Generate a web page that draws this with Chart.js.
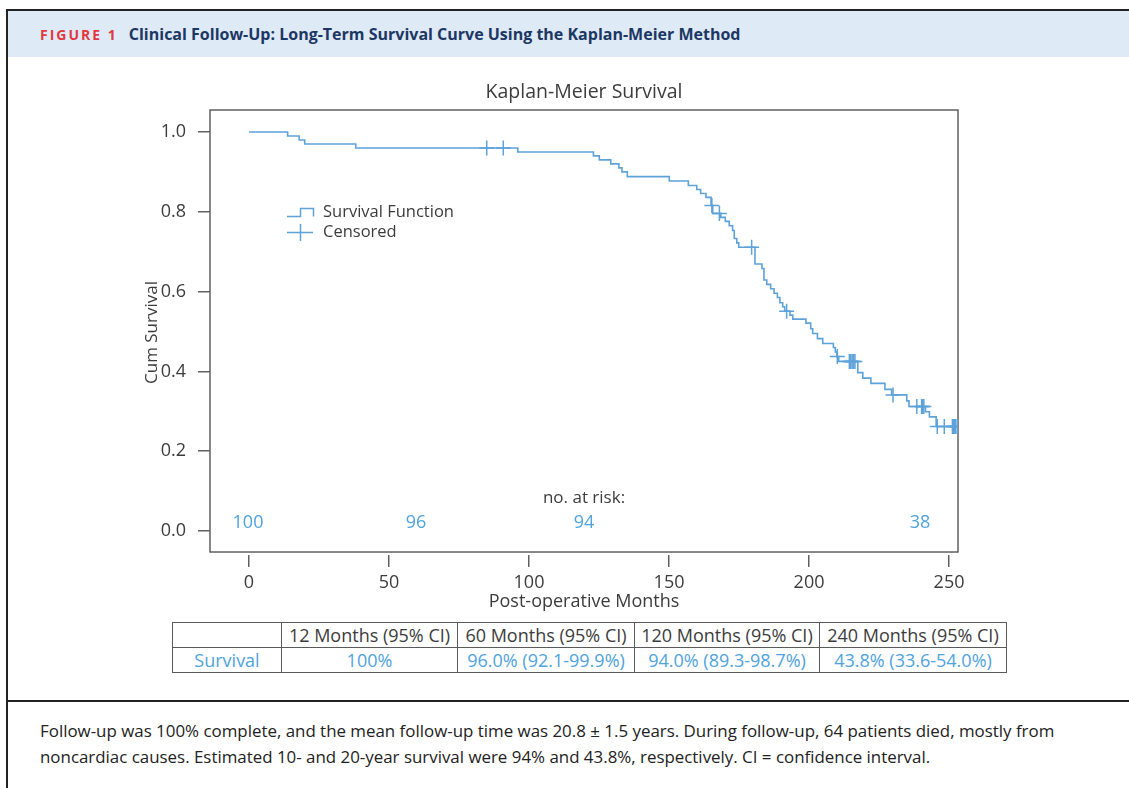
<!DOCTYPE html>
<html lang="en">
<head>
    <meta charset="UTF-8">
    <title>Figure 1 - Kaplan-Meier Survival</title>
    <script src="https://cdn.jsdelivr.net/npm/chart.js"></script>
    <style>
        :root {
            --curve-blue: #5ea2da;
            --value-blue: #4fa3de;
            --text-dark: #3c3c3c;
            --frame-gray: #606060;
            --header-bg: #deeaf6;
            --header-navy: #1c3764;
            --figure-red: #e2383f;
        }

        * {
            box-sizing: border-box;
            margin: 0;
            padding: 0;
        }

        body {
            width: 1129px;
            height: 788px;
            position: relative;
            overflow: hidden;
            background: #FFFFFF;
            font-family: "Open Sans", "Noto Sans", sans-serif;
            color: var(--text-dark);
        }

        .frame-top {
            position: absolute;
            left: 6px;
            top: 9px;
            width: 1123px;
            height: 2px;
            background: #222;
        }

        .frame-left {
            position: absolute;
            left: 6px;
            top: 9px;
            width: 2px;
            height: 779px;
            background: #222;
        }

        .frame-rule {
            position: absolute;
            left: 6px;
            top: 700px;
            width: 1123px;
            height: 2px;
            background: #222;
        }

        .figure-header {
            position: absolute;
            left: 8px;
            top: 11px;
            width: 1121px;
            height: 46px;
            background: var(--header-bg);
            display: flex;
            align-items: center;
            padding-left: 32px;
            white-space: nowrap;
        }

        .figure-header .fig-no {
            color: var(--figure-red);
            font-weight: 700;
            font-size: 14px;
            letter-spacing: 2px;
            margin-right: 11px;
        }

        .figure-header .fig-title {
            color: var(--header-navy);
            font-weight: 700;
            font-size: 16px;
        }

        .chart-box {
            position: absolute;
            left: 0;
            top: 57px;
            width: 1129px;
            height: 558px;
        }

        .km-legend {
            position: absolute;
            left: 287px;
            top: 201px;
            font-size: 16.5px;
            color: var(--text-dark);
            line-height: 20px;
        }

        .km-legend div {
            display: flex;
            align-items: center;
            white-space: nowrap;
        }

        .km-legend svg {
            width: 28px;
            height: 20px;
            margin-right: 8px;
        }

        .km-table {
            position: absolute;
            left: 172px;
            top: 622px;
            border-collapse: collapse;
            font-size: 18px;
        }

        .km-table td {
            border: 1px solid #5a5a5a;
            height: 25px;
            line-height: 22px;
            text-align: center;
            padding: 0;
            white-space: nowrap;
        }

        .km-table tr.head td { color: var(--text-dark); }
        .km-table tr.vals td { color: var(--value-blue); }

        .caption {
            position: absolute;
            left: 40px;
            top: 718px;
            font-size: 16.9px;
            line-height: 26px;
            color: #222;
            white-space: nowrap;
        }
    </style>
</head>
<body>
    <div class="frame-top"></div>
    <div class="frame-left"></div>
    <div class="figure-header">
        <span class="fig-no">FIGURE 1</span>
        <span class="fig-title">Clinical Follow-Up: Long-Term Survival Curve Using the Kaplan-Meier Method</span>
    </div>

    <div class="chart-box">
        <canvas id="kmChart" width="1129" height="558"></canvas>
    </div>

    <div class="km-legend">
        <div>
            <svg viewBox="0 0 28 20"><path d="M0 15.5 H13.5 V7.5 H26.5 V15.5" fill="none" stroke="#5ea2da" stroke-width="1.5"/></svg>
            Survival Function
        </div>
        <div>
            <svg viewBox="0 0 28 20"><path d="M0 11.5 H26 M13.5 3 V20" fill="none" stroke="#5ea2da" stroke-width="1.5"/></svg>
            Censored
        </div>
    </div>

    <table class="km-table" id="kmTable"></table>

    <div class="frame-rule"></div>
    <div class="caption">
        Follow-up was 100% complete, and the mean follow-up time was 20.8 &plusmn; 1.5 years. During follow-up, 64 patients died, mostly from<br>
        noncardiac causes. Estimated 10- and 20-year survival were 94% and 43.8%, respectively. CI = confidence interval.
    </div>

    <script>
        // survival steps (month of event, cumulative survival after it)
        const kmMonths = [0, 13.8, 17.9, 19.9, 38.1, 96.0, 123.0, 125.1, 129.2, 132.1,
            133.2, 135.1, 150.1, 156.9, 159.9, 161.3, 163.2, 165.0, 165.6, 168.5,
            170.1, 171.5, 172.7, 173.3, 174.2, 174.9, 180.7, 183.2, 183.9, 184.9,
            186.3, 187.5, 188.7, 189.6, 190.6, 191.3, 193.2, 194.2, 198.9, 200.6,
            201.3, 203.0, 204.9, 208.7, 209.4, 209.9, 210.6, 217.4, 219.2, 222.1,
            227.1, 229.5, 234.9, 235.7, 241.6, 243.0, 245.4, 252.4];
        const kmSurvival = [1.00, 0.99, 0.98, 0.97, 0.96, 0.95, 0.94, 0.93, 0.92, 0.91,
            0.90, 0.888, 0.877, 0.866, 0.856, 0.846, 0.836, 0.816, 0.796, 0.786,
            0.776, 0.765, 0.753, 0.733, 0.722, 0.711, 0.669, 0.658, 0.629, 0.618,
            0.607, 0.596, 0.585, 0.572, 0.562, 0.551, 0.541, 0.531, 0.521, 0.507,
            0.495, 0.482, 0.470, 0.460, 0.449, 0.437, 0.425, 0.397, 0.383, 0.370,
            0.355, 0.341, 0.326, 0.312, 0.299, 0.286, 0.262, 0.262];

        // censored observations
        const censorMonths = [84.9, 90.8, 165.3, 168.0, 179.5, 192.0, 210.1, 214.4, 214.9, 215.4,
            215.9, 216.4, 230.0, 238.5, 240.2, 240.6, 241.0, 245.8, 248.3, 251.2,
            251.6, 252.0, 252.4, 253.0];
        const censorSurvival = [0.96, 0.96, 0.816, 0.796, 0.711, 0.551, 0.437, 0.425, 0.425, 0.425,
            0.425, 0.425, 0.341, 0.312, 0.312, 0.312, 0.312, 0.262, 0.262, 0.262,
            0.262, 0.262, 0.262, 0.262];

        // number at risk
        const riskMonths = [0, 60, 120, 240];
        const riskCounts = [100, 96, 94, 38];

        const xTicks = [0, 50, 100, 150, 200, 250];
        const yTicks = [0, 0.2, 0.4, 0.6, 0.8, 1.0];

        // survival table
        const tableHeaders = ['12 Months (95% CI)', '60 Months (95% CI)', '120 Months (95% CI)', '240 Months (95% CI)'];
        const tableValues = ['100%', '96.0% (92.1-99.9%)', '94.0% (89.3-98.7%)', '43.8% (33.6-54.0%)'];
        const tableColWidths = [109, 176, 177, 185, 187];

        document.addEventListener('DOMContentLoaded', function () {
            const css = getComputedStyle(document.documentElement);
            const curveBlue = css.getPropertyValue('--curve-blue').trim();
            const valueBlue = css.getPropertyValue('--value-blue').trim();
            const textDark = css.getPropertyValue('--text-dark').trim();
            const frameGray = css.getPropertyValue('--frame-gray').trim();
            const fontFamily = '"Open Sans", "Noto Sans", sans-serif';

            // table
            const table = document.getElementById('kmTable');
            const headRow = table.insertRow();
            headRow.className = 'head';
            const valRow = table.insertRow();
            valRow.className = 'vals';
            const blank = headRow.insertCell();
            blank.style.width = tableColWidths[0] + 'px';
            valRow.insertCell().textContent = 'Survival';
            tableHeaders.forEach((h, i) => {
                const c = headRow.insertCell();
                c.textContent = h;
                c.style.width = tableColWidths[i + 1] + 'px';
                valRow.insertCell().textContent = tableValues[i];
            });

            // frame, title centred on the plot, number-at-risk row
            const framePlugin = {
                id: 'plotFrame',
                beforeDatasetsDraw(chart) {
                    const { ctx, chartArea: a } = chart;
                    ctx.save();
                    ctx.strokeStyle = frameGray;
                    ctx.lineWidth = 1.5;
                    ctx.strokeRect(a.left, a.top, a.right - a.left, a.bottom - 3 - a.top);
                    ctx.fillStyle = textDark;
                    ctx.textAlign = 'center';
                    ctx.textBaseline = 'middle';
                    ctx.font = '19.5px ' + fontFamily;
                    ctx.fillText('Kaplan-Meier Survival', (a.left + a.right) / 2, a.top - 18);
                    ctx.restore();
                },
                afterDatasetsDraw(chart) {
                    const { ctx, scales: { x, y }, chartArea: a } = chart;
                    ctx.save();
                    ctx.textAlign = 'center';
                    ctx.textBaseline = 'middle';
                    ctx.fillStyle = textDark;
                    ctx.font = '17px ' + fontFamily;
                    ctx.fillText('no. at risk:', (a.left + a.right) / 2, y.getPixelForValue(0.083));
                    ctx.fillStyle = valueBlue;
                    ctx.font = '18px ' + fontFamily;
                    riskMonths.forEach((m, i) => {
                        ctx.fillText(String(riskCounts[i]), x.getPixelForValue(m) - 1, y.getPixelForValue(0.02));
                    });
                    ctx.restore();
                }
            };

            const ctx = document.getElementById('kmChart').getContext('2d');
            new Chart(ctx, {
                type: 'line',
                data: {
                    datasets: [{
                        label: 'Survival Function',
                        data: kmMonths.map((m, i) => ({ x: m, y: kmSurvival[i] })),
                        stepped: true,
                        borderColor: curveBlue,
                        borderWidth: 1.6,
                        pointRadius: 0,
                        fill: false
                    }, {
                        label: 'Censored',
                        data: censorMonths.map((m, i) => ({ x: m, y: censorSurvival[i] })),
                        showLine: false,
                        pointStyle: 'cross',
                        pointRadius: 7.5,
                        pointBorderWidth: 1.5,
                        borderColor: curveBlue,
                        backgroundColor: curveBlue
                    }]
                },
                options: {
                    responsive: false,
                    animation: false,
                    layout: {
                        padding: { left: 140, right: 171, top: 53, bottom: 0 }
                    },
                    scales: {
                        x: {
                            type: 'linear',
                            min: -13.93,
                            max: 253.2,
                            afterFit: (s) => { s.height = 60; },
                            afterBuildTicks: (s) => { s.ticks = xTicks.map(v => ({ value: v })); },
                            border: { display: false },
                            grid: {
                                drawOnChartArea: false,
                                drawTicks: true,
                                tickLength: 12,
                                color: frameGray,
                                lineWidth: 1.5
                            },
                            ticks: {
                                color: textDark,
                                padding: 5,
                                font: { family: fontFamily, size: 18 }
                            },
                            title: {
                                display: true,
                                text: 'Post-operative Months',
                                color: textDark,
                                padding: { top: 0, bottom: 2 },
                                font: { family: fontFamily, size: 18 }
                            }
                        },
                        y: {
                            min: -0.0602,
                            max: 1.0551,
                            afterFit: (s) => { s.width = 70; },
                            afterBuildTicks: (s) => { s.ticks = yTicks.map(v => ({ value: v })); },
                            border: { display: false },
                            grid: {
                                drawOnChartArea: false,
                                drawTicks: true,
                                tickLength: 12,
                                color: frameGray,
                                lineWidth: 1.5
                            },
                            ticks: {
                                color: textDark,
                                padding: 12,
                                callback: (v) => Number(v).toFixed(1),
                                font: { family: fontFamily, size: 18 }
                            },
                            title: {
                                display: true,
                                text: 'Cum Survival',
                                color: textDark,
                                padding: { top: 2, bottom: 0 },
                                font: { family: fontFamily, size: 17 }
                            }
                        }
                    },
                    plugins: {
                        legend: { display: false },
                        tooltip: { enabled: false },
                        title: { display: false }
                    }
                },
                plugins: [framePlugin]
            });
        });
    </script>
</body>
</html>
